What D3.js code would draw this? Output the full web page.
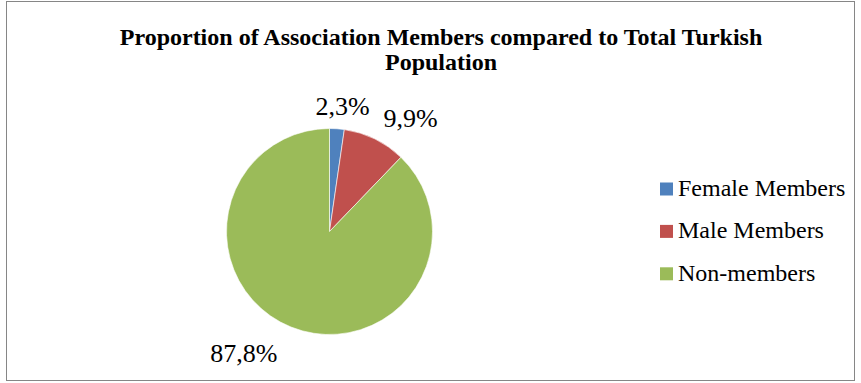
<!DOCTYPE html>
<html>
<head>
<meta charset="utf-8">
<script src="https://cdn.jsdelivr.net/npm/d3@7"></script>
<style>
  body { margin: 0; background: #fff; }
</style>
</head>
<body>
<div id="chart"></div>
<script>
//data
const categories = ["Female Members", "Male Members", "Non-members"];
const values = [2.3, 9.9, 87.8];
const labels = ["2,3%", "9,9%", "87,8%"];
const colors = ["#4F81BD", "#C0504D", "#9BBB59"];

const width = 861;
const height = 383;
const font = "'Liberation Serif', 'Times New Roman', 'DejaVu Serif', serif";

const svg = d3.select("#chart").append("svg")
  .attr("width", width)
  .attr("height", height)
  .style("font-family", font);

//frame
svg.append("rect")
  .attr("x", 6.5)
  .attr("y", 1.5)
  .attr("width", 848)
  .attr("height", 379)
  .attr("fill", "white")
  .attr("stroke", "#868686")
  .attr("stroke-width", 1);

//title
const title = svg.append("text")
  .attr("text-anchor", "middle")
  .attr("font-family", font)
  .attr("font-weight", "bold")
  .attr("font-size", 24);
title.append("tspan").attr("x", 441).attr("y", 45)
  .text("Proportion of Association Members compared to Total Turkish");
title.append("tspan").attr("x", 441).attr("y", 70)
  .text("Population");

//pie
const cx = 329.5, cy = 231.5, radius = 103;

const pie = d3.pie().sort(null).value(d => d);
const arcs = pie(values);
const arc = d3.arc().innerRadius(0).outerRadius(radius);

const g = svg.append("g").attr("transform", `translate(${cx},${cy})`);

g.selectAll("path")
  .data(arcs)
  .join("path")
  .attr("d", arc)
  .attr("fill", (d, i) => colors[i])
  .attr("stroke", "white")
  .attr("stroke-width", 0.6);

//labels placed outside the slices
const labelArc = d3.arc().innerRadius(radius + 22).outerRadius(radius + 22);
const labelShift = [[4, -1], [26, -1.5], [-39, 5.5]];
g.selectAll("text.lbl")
  .data(arcs)
  .join("text")
  .attr("class", "lbl")
  .attr("text-anchor", "middle")
  .attr("font-family", font)
  .attr("font-size", 26)
  .attr("transform", (d, i) => {
    const [x, y] = labelArc.centroid(d);
    return `translate(${x + labelShift[i][0]},${y + labelShift[i][1]})`;
  })
  .attr("dy", "0.35em")
  .text((d, i) => labels[i]);

//legend
const legend = svg.append("g").attr("transform", "translate(660,189)");
const rows = legend.selectAll("g")
  .data(categories)
  .join("g")
  .attr("transform", (d, i) => `translate(0,${i * 42.4})`);

rows.append("rect")
  .attr("x", 0)
  .attr("y", -6.5)
  .attr("width", 13)
  .attr("height", 13)
  .attr("fill", (d, i) => colors[i]);

rows.append("text")
  .attr("x", 18)
  .attr("y", 7)
  .attr("font-family", font)
  .attr("font-size", 24)
  .text(d => d);
</script>
</body>
</html>
